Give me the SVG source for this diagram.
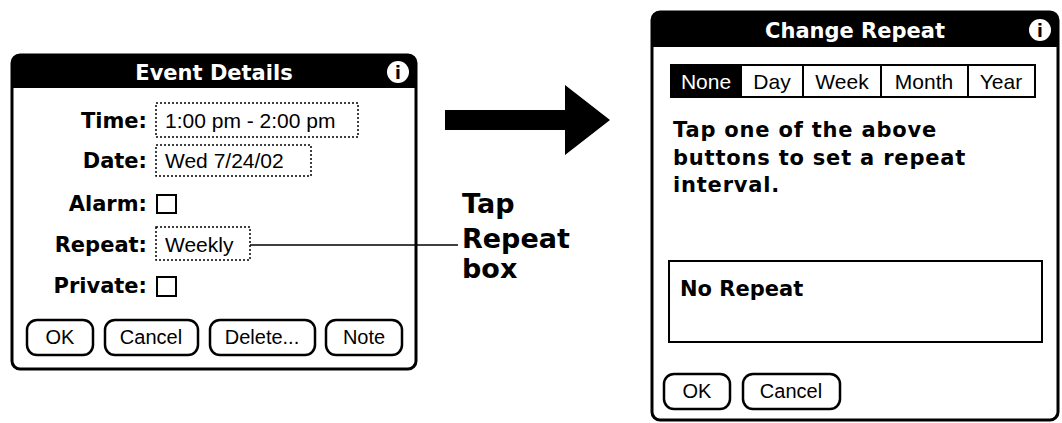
<svg xmlns="http://www.w3.org/2000/svg" width="1062" height="423" viewBox="0 0 1062 423">
<style>
.b{font-family:"DejaVu Sans",sans-serif;font-weight:bold;fill:#000}
.n{font-family:"Liberation Sans",sans-serif;fill:#000}
.lbl{font-size:21px;text-anchor:end}
.fld{fill:none;stroke:#000;stroke-width:1.5;stroke-dasharray:2 2}
.btn{fill:#fff;stroke:#000;stroke-width:2.5}
.frame{fill:#fff;stroke:#000;stroke-width:3}
</style>
<rect width="1062" height="423" fill="#fff"/>
<g id="event-details">
<rect class="frame" x="12" y="55" width="404" height="314" rx="8"/>
<path d="M12 88 V63 Q12 55 20 55 H408 Q416 55 416 63 V88 Z" fill="#000"/>
<text class="b" x="214" y="80" font-size="21" text-anchor="middle" style="fill:#fff">Event Details</text>
<circle cx="398" cy="72" r="11" fill="#fff"/>
<text class="b" x="398" y="79" font-size="17" text-anchor="middle">i</text>
<text class="b lbl" x="147" y="128">Time:</text>
<text class="b lbl" x="147" y="168">Date:</text>
<text class="b lbl" x="147" y="211">Alarm:</text>
<text class="b lbl" x="147" y="252">Repeat:</text>
<text class="b lbl" x="147" y="293">Private:</text>
<rect class="fld" x="156" y="103" width="202" height="34"/>
<text class="n" x="165" y="128" font-size="21">1:00 pm - 2:00 pm</text>
<rect class="fld" x="156" y="145" width="155" height="31"/>
<text class="n" x="165" y="168" font-size="21">Wed 7/24/02</text>
<rect x="157" y="195" width="19" height="18" fill="none" stroke="#000" stroke-width="2"/>
<rect class="fld" x="156" y="227" width="94" height="33"/>
<text class="n" x="165" y="252" font-size="21">Weekly</text>
<rect x="157" y="277" width="19" height="19" fill="none" stroke="#000" stroke-width="2"/>
<rect class="btn" x="27" y="320" width="66" height="35" rx="10"/>
<text class="n" x="60" y="344" font-size="20" text-anchor="middle">OK</text>
<rect class="btn" x="105" y="320" width="93" height="35" rx="10"/>
<text class="n" x="151" y="344" font-size="20" text-anchor="middle">Cancel</text>
<rect class="btn" x="210" y="320" width="105" height="35" rx="10"/>
<text class="n" x="262" y="344" font-size="20" text-anchor="middle">Delete...</text>
<rect class="btn" x="326" y="320" width="76" height="35" rx="10"/>
<text class="n" x="364" y="344" font-size="20" text-anchor="middle">Note</text>
</g>
<g id="callout">
<text class="b" font-size="27"><tspan x="462" y="213">Tap</tspan><tspan x="462" y="248">Repeat</tspan><tspan x="462" y="278">box</tspan></text>
</g>
<g id="connectors">
<line x1="250" y1="245" x2="458" y2="245" stroke="#000" stroke-width="1.5"/>
<path d="M445 110 H565 V85 L610 120 L565 155 V130 H445 Z" fill="#000"/>
</g>
<g id="change-repeat">
<rect class="frame" x="652" y="12" width="406" height="408" rx="8"/>
<path d="M652 47 V20 Q652 12 660 12 H1050 Q1058 12 1058 20 V47 Z" fill="#000"/>
<text class="b" x="855" y="38" font-size="21" text-anchor="middle" style="fill:#fff">Change Repeat</text>
<circle cx="1040" cy="30" r="11" fill="#fff"/>
<text class="b" x="1040" y="37" font-size="17" text-anchor="middle">i</text>
<rect x="671" y="65" width="364" height="32" fill="#fff" stroke="#000" stroke-width="2"/>
<rect x="671" y="65" width="71" height="32" fill="#000"/>
<g stroke="#000" stroke-width="2"><line x1="803" y1="65" x2="803" y2="97"/><line x1="881" y1="65" x2="881" y2="97"/><line x1="968" y1="65" x2="968" y2="97"/></g>
<text class="n" x="706" y="89" font-size="21" text-anchor="middle" style="fill:#fff">None</text>
<text class="n" x="772" y="89" font-size="21" text-anchor="middle">Day</text>
<text class="n" x="842" y="89" font-size="21" text-anchor="middle">Week</text>
<text class="n" x="924" y="89" font-size="21" text-anchor="middle">Month</text>
<text class="n" x="1001" y="89" font-size="21" text-anchor="middle">Year</text>
<text class="b" font-size="21" letter-spacing="0.8"><tspan x="673" y="137">Tap one of the above</tspan><tspan x="673" y="165">buttons to set a repeat</tspan><tspan x="673" y="192">interval.</tspan></text>
<rect x="669" y="261" width="373" height="81" fill="none" stroke="#000" stroke-width="2"/>
<text class="b" x="680" y="296" font-size="21">No Repeat</text>
<rect class="btn" x="664" y="374" width="66" height="35" rx="10"/>
<text class="n" x="697" y="398" font-size="20" text-anchor="middle">OK</text>
<rect class="btn" x="743" y="374" width="97" height="35" rx="10"/>
<text class="n" x="791" y="398" font-size="20" text-anchor="middle">Cancel</text>
</g>
</svg>
